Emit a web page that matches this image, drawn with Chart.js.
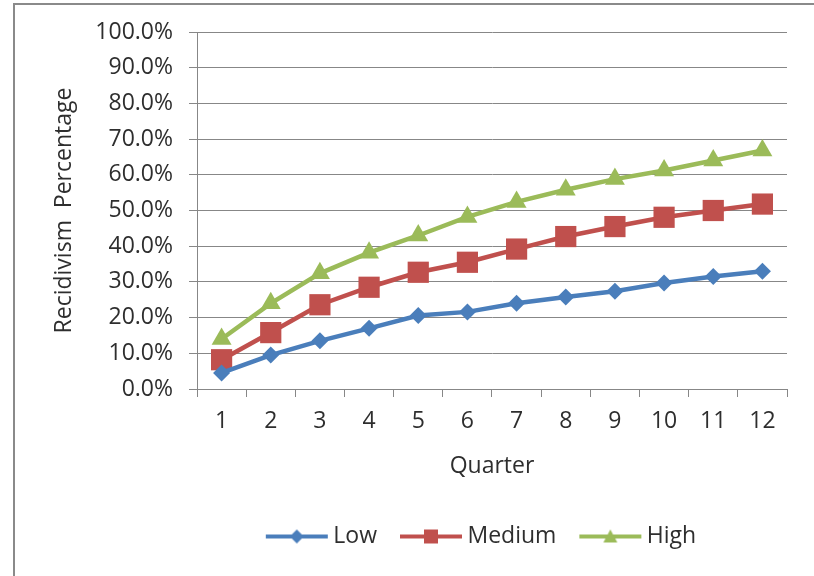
<!DOCTYPE html>
<html>
<head>
<meta charset="utf-8">
<script src="https://cdn.jsdelivr.net/npm/chart.js@4"></script>
<style>
  html, body { margin: 0; padding: 0; background: #fff; overflow: hidden; }
  #frame { position: absolute; left: 13px; top: 3px; width: 900px; height: 700px;
           border-left: 2px solid #8a8a8a; border-top: 2px solid #8a8a8a; }
  #wrap { position: absolute; left: 0; top: 0; width: 814px; height: 576px; }
</style>
</head>
<body>
<div id="frame"></div>
<div id="wrap"><canvas id="chart" width="814" height="576"></canvas></div>
<script>
// data
var quarters = ['1', '2', '3', '4', '5', '6', '7', '8', '9', '10', '11', '12'];
var lowVals = [4.5, 9.5, 13.5, 17.0, 20.6, 21.6, 24.0, 25.8, 27.4, 29.7, 31.5, 33.0];
var mediumVals = [8.2, 15.8, 23.6, 28.5, 32.7, 35.5, 39.2, 42.7, 45.5, 48.1, 50.0, 51.8];
var highVals = [14.0, 24.0, 32.4, 38.2, 43.0, 48.2, 52.4, 55.8, 58.8, 61.2, 64.0, 66.8];
var yTicks = [0, 10, 20, 30, 40, 50, 60, 70, 80, 90, 100];

var FONT = '"Open Sans", sans-serif';
var TXT = '#2e2e2e';
var GRID = '#878787';
var FS = 23;

var blue = '#4a7ebb', red = '#c0504d', green = '#9bbb59';

// little line+marker image for the legend, like Excel draws it
function legendIcon(color, shape) {
  var c = document.createElement('canvas');
  c.width = 64; c.height = 18;
  var g = c.getContext('2d');
  g.strokeStyle = color; g.lineWidth = 4;
  g.beginPath(); g.moveTo(1, 9); g.lineTo(63, 9); g.stroke();
  g.fillStyle = color;
  g.beginPath();
  if (shape == 'diamond') {
    g.moveTo(32, 2); g.lineTo(39, 9); g.lineTo(32, 16); g.lineTo(25, 9);
  } else if (shape == 'square') {
    g.rect(25, 2, 14, 14);
  } else {
    g.moveTo(32, 2); g.lineTo(39, 15); g.lineTo(25, 15);
  }
  g.closePath(); g.fill();
  return c;
}

var series = [
  { label: 'Low', data: lowVals, color: blue, point: 'rectRot', r: 8.5, icon: 'diamond' },
  { label: 'Medium', data: mediumVals, color: red, point: 'rect', r: 15, icon: 'square' },
  { label: 'High', data: highVals, color: green, point: 'triangle', r: 11.5, icon: 'triangle' }
];

var datasets = series.map(function (s) {
  return {
    label: s.label,
    data: s.data,
    borderColor: s.color,
    backgroundColor: s.color,
    borderWidth: 4.5,
    pointStyle: s.point,
    pointRadius: s.r,
    pointHoverRadius: s.r,
    pointBorderWidth: 0,
    pointBackgroundColor: s.color,
    tension: 0,
    fill: false
  };
});

// move the legend row so it sits under the plot like in the picture
var legendShift = {
  id: 'legendShift',
  afterLayout: function (chart) {
    var lg = chart.legend;
    var d = 484 - (lg.left + lg.right) / 2;
    lg.left += d; lg.right += d;
  }
};

new Chart(document.getElementById('chart'), {
  type: 'line',
  data: { labels: quarters, datasets: datasets },
  plugins: [legendShift],
  options: {
    responsive: false,
    animation: false,
    layout: { padding: { left: 0, top: 32, right: 27, bottom: 18 } },
    plugins: {
      tooltip: { enabled: false },
      legend: {
        position: 'bottom',
        labels: {
          usePointStyle: true,
          pointStyleWidth: 50,
          padding: 29,
          color: TXT,
          font: { family: FONT, size: FS },
          generateLabels: function (chart) {
            return series.map(function (s, i) {
              return {
                text: s.label,
                pointStyle: legendIcon(s.color, s.icon),
                fillStyle: s.color,
                strokeStyle: s.color,
                lineWidth: 0,
                fontColor: TXT,
                datasetIndex: i
              };
            });
          }
        }
      }
    },
    scales: {
      x: {
        offset: true,
        grid: { offset: true, drawOnChartArea: false, drawTicks: true, tickLength: 8, color: GRID },
        border: { color: GRID, width: 1 },
        ticks: { color: TXT, padding: 11, font: { family: FONT, size: FS }, maxRotation: 0 },
        title: { display: true, text: 'Quarter', color: TXT, font: { family: FONT, size: FS },
                 padding: { top: 0, bottom: 16 } },
        afterFit: function (s) { s.height = 107; }
      },
      y: {
        min: 0,
        max: 100,
        afterBuildTicks: function (s) { s.ticks = yTicks.map(function (v) { return { value: v }; }); },
        grid: { color: GRID, tickLength: 8, lineWidth: 1 },
        border: { color: GRID, width: 1 },
        ticks: {
          color: TXT, padding: 16, font: { family: FONT, size: FS },
          callback: function (v) { return v.toFixed(1) + '%'; }
        },
        title: { display: true, text: 'Recidivism  Percentage', color: TXT,
                 font: { family: FONT, size: FS }, padding: { top: 51, bottom: 0 } },
        afterFit: function (s) { s.width = 197; }
      }
    }
  }
});
</script>
</body>
</html>
